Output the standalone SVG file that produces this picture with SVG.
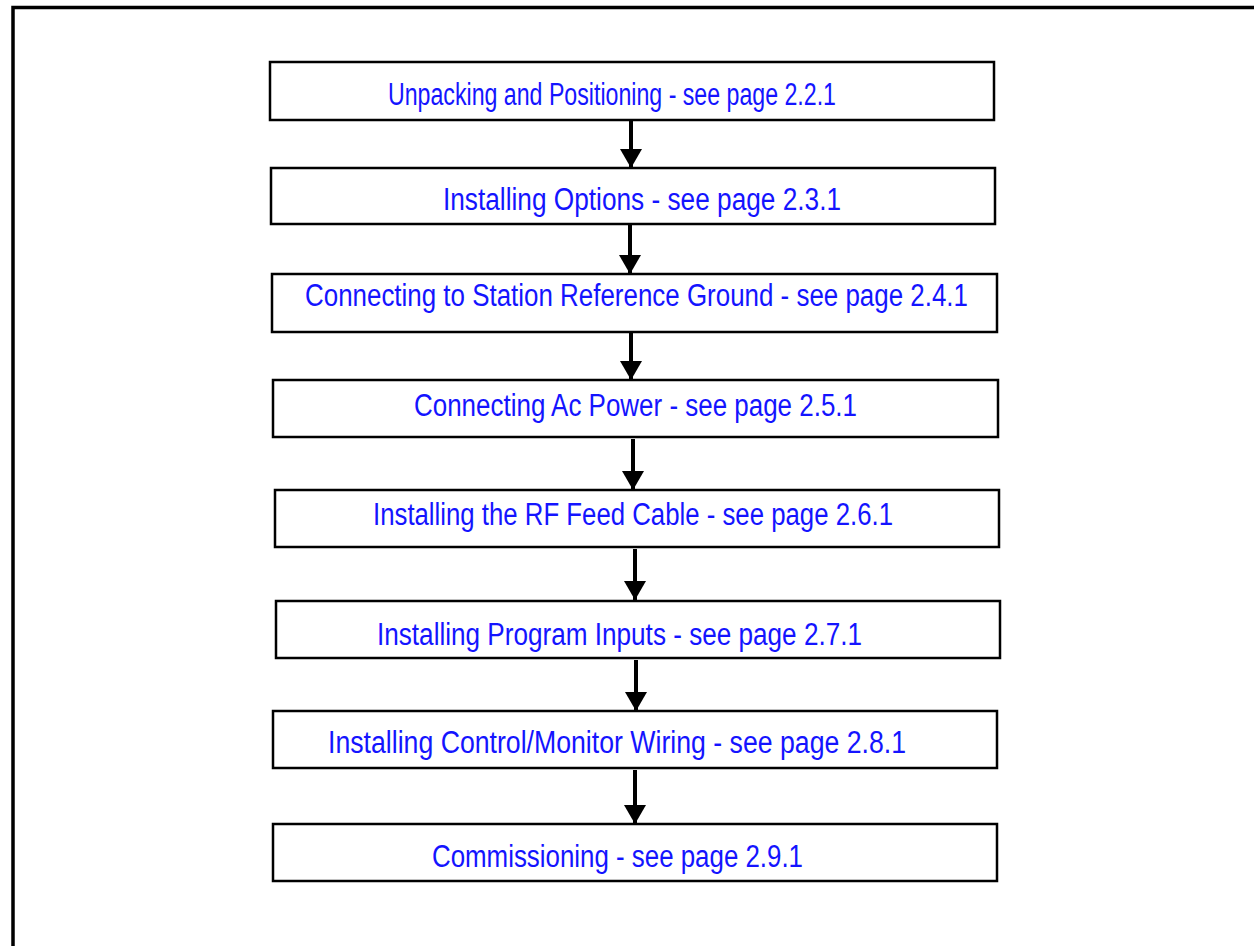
<svg xmlns="http://www.w3.org/2000/svg" width="1254" height="946" viewBox="0 0 1254 946">
<style>
.box{fill:#fff;stroke:#000;stroke-width:2.5}
.lbl{font-family:"Liberation Sans","DejaVu Sans",sans-serif;font-size:31px;fill:#1414ff}
.arr{stroke:#000;stroke-width:4;fill:none}
.frame{stroke:#000;stroke-width:3.5;fill:none}
</style>
<defs>
<marker id="ah" markerUnits="userSpaceOnUse" markerWidth="20" markerHeight="23" refX="19" refY="11" orient="auto">
<path d="M0,0 L19,11 L0,22 Z" fill="#000"/>
</marker>
</defs>
<path class="frame" d="M13,946 V7.5 H1254"/>
<g id="connectors">
<line class="arr" x1="631" y1="121" x2="631" y2="168" marker-end="url(#ah)"/>
<line class="arr" x1="630" y1="225" x2="630" y2="274" marker-end="url(#ah)"/>
<line class="arr" x1="631" y1="333" x2="631" y2="380" marker-end="url(#ah)"/>
<line class="arr" x1="633" y1="439" x2="633" y2="490" marker-end="url(#ah)"/>
<line class="arr" x1="635" y1="549" x2="635" y2="600" marker-end="url(#ah)"/>
<line class="arr" x1="636" y1="660" x2="636" y2="711" marker-end="url(#ah)"/>
<line class="arr" x1="635" y1="770" x2="635" y2="824" marker-end="url(#ah)"/>
</g>
<g id="n1"><rect class="box" x="270" y="62" width="724" height="58"/><text class="lbl" x="388" y="105" textLength="448" lengthAdjust="spacingAndGlyphs">Unpacking and Positioning - see page 2.2.1</text></g>
<g id="n2"><rect class="box" x="271" y="168" width="724" height="56"/><text class="lbl" x="443" y="210" textLength="398" lengthAdjust="spacingAndGlyphs">Installing Options - see page 2.3.1</text></g>
<g id="n3"><rect class="box" x="272" y="274" width="725" height="58"/><text class="lbl" x="305" y="306" textLength="663" lengthAdjust="spacingAndGlyphs">Connecting to Station Reference Ground - see page 2.4.1</text></g>
<g id="n4"><rect class="box" x="273" y="380" width="725" height="57"/><text class="lbl" x="414" y="416" textLength="443" lengthAdjust="spacingAndGlyphs">Connecting Ac Power - see page 2.5.1</text></g>
<g id="n5"><rect class="box" x="275" y="490" width="724" height="57"/><text class="lbl" x="373" y="525" textLength="520" lengthAdjust="spacingAndGlyphs">Installing the RF Feed Cable - see page 2.6.1</text></g>
<g id="n6"><rect class="box" x="276" y="601" width="724" height="57"/><text class="lbl" x="377" y="645" textLength="485" lengthAdjust="spacingAndGlyphs">Installing Program Inputs - see page 2.7.1</text></g>
<g id="n7"><rect class="box" x="273" y="711" width="724" height="57"/><text class="lbl" x="328" y="753" textLength="578" lengthAdjust="spacingAndGlyphs">Installing Control/Monitor Wiring - see page 2.8.1</text></g>
<g id="n8"><rect class="box" x="273" y="824" width="724" height="57"/><text class="lbl" x="432" y="867" textLength="371" lengthAdjust="spacingAndGlyphs">Commissioning - see page 2.9.1</text></g>
</svg>
